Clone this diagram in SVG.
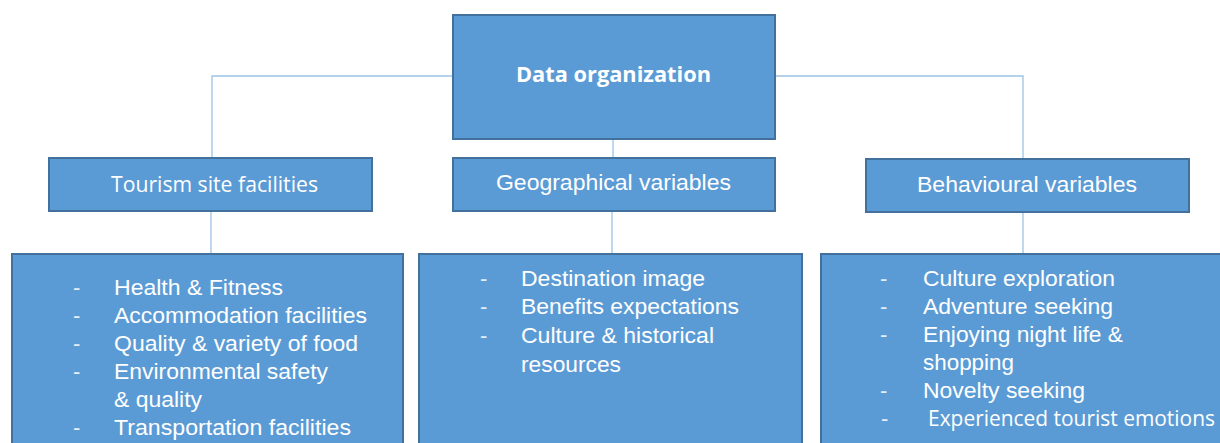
<svg xmlns="http://www.w3.org/2000/svg" width="1220" height="443" viewBox="0 0 1220 443">
<style>
.box{fill:#5B9BD5;stroke:#41719C;stroke-width:2}
.con{stroke:#9DC3E6;stroke-width:1.3;fill:none}
.t{fill:#FFFFFF;font-family:"Liberation Sans",Arial,sans-serif;font-size:22.5px}
.c{fill:#FFFFFF;font-family:"Open Sans","Noto Sans",sans-serif;font-size:21px}
.b{fill:#FFFFFF;font-family:"Open Sans","Noto Sans",sans-serif;font-size:21px;font-weight:bold}
.d{fill:#E6EEF7;font-family:"Liberation Sans",Arial,sans-serif;font-size:22px}
</style>
<rect width="1220" height="443" fill="#FFFFFF"/>
<g id="connectors">
<polyline class="con" points="453,76 212,76 212,158"/>
<polyline class="con" points="775,76 1023,76 1023,159"/>
<line class="con" x1="613" y1="139" x2="613" y2="158"/>
<line class="con" x1="211" y1="211" x2="211" y2="255"/>
<line class="con" x1="612" y1="211" x2="612" y2="255"/>
<line class="con" x1="1023" y1="212" x2="1023" y2="254"/>
</g>
<g id="root">
<rect class="box" x="453" y="15" width="322" height="124"/>
<text class="b" x="516" y="82" textLength="195" lengthAdjust="spacingAndGlyphs">Data organization</text>
</g>
<g id="tourism">
<rect class="box" x="49" y="158" width="323" height="53"/>
<text class="c" x="111" y="192" textLength="207" lengthAdjust="spacingAndGlyphs">Tourism site facilities</text>
</g>
<g id="geographical">
<rect class="box" x="453" y="158" width="322" height="53"/>
<text class="t" x="496" y="189.5" textLength="235" lengthAdjust="spacingAndGlyphs">Geographical variables</text>
</g>
<g id="behavioural">
<rect class="box" x="866" y="159" width="323" height="53"/>
<text class="t" x="917" y="192" textLength="220" lengthAdjust="spacingAndGlyphs">Behavioural variables</text>
</g>
<g id="tourism-list">
<rect class="box" x="12" y="254" width="391" height="210"/>
<text class="d" x="73" y="294.5">-</text>
<text class="t" x="114" y="294.5" textLength="169" lengthAdjust="spacingAndGlyphs">Health &amp; Fitness</text>
<text class="d" x="73" y="322.5">-</text>
<text class="t" x="114" y="322.5" textLength="253" lengthAdjust="spacingAndGlyphs">Accommodation facilities</text>
<text class="d" x="73" y="351">-</text>
<text class="t" x="114" y="351" textLength="244" lengthAdjust="spacingAndGlyphs">Quality &amp; variety of food</text>
<text class="d" x="73" y="379">-</text>
<text class="t" x="114" y="379" textLength="214" lengthAdjust="spacingAndGlyphs">Environmental safety</text>
<text class="t" x="114" y="407" textLength="88" lengthAdjust="spacingAndGlyphs">&amp; quality</text>
<text class="d" x="73" y="435">-</text>
<text class="t" x="114" y="435" textLength="237" lengthAdjust="spacingAndGlyphs">Transportation facilities</text>
</g>
<g id="geographical-list">
<rect class="box" x="419" y="254" width="383" height="210"/>
<text class="d" x="480" y="286">-</text>
<text class="t" x="521" y="286" textLength="184" lengthAdjust="spacingAndGlyphs">Destination image</text>
<text class="d" x="480" y="314">-</text>
<text class="t" x="521" y="314" textLength="218" lengthAdjust="spacingAndGlyphs">Benefits expectations</text>
<text class="d" x="480" y="342.5">-</text>
<text class="t" x="521" y="342.5" textLength="193" lengthAdjust="spacingAndGlyphs">Culture &amp; historical</text>
<text class="t" x="521" y="371.5" textLength="100" lengthAdjust="spacingAndGlyphs">resources</text>
</g>
<g id="behavioural-list">
<rect class="box" x="821" y="254" width="410" height="210"/>
<text class="d" x="880" y="286">-</text>
<text class="t" x="923" y="286" textLength="192" lengthAdjust="spacingAndGlyphs">Culture exploration</text>
<text class="d" x="880" y="314">-</text>
<text class="t" x="923" y="314" textLength="190" lengthAdjust="spacingAndGlyphs">Adventure seeking</text>
<text class="d" x="880" y="342">-</text>
<text class="t" x="923" y="342" textLength="200" lengthAdjust="spacingAndGlyphs">Enjoying night life &amp;</text>
<text class="t" x="923" y="370" textLength="91" lengthAdjust="spacingAndGlyphs">shopping</text>
<text class="d" x="880" y="398">-</text>
<text class="t" x="923" y="398" textLength="162" lengthAdjust="spacingAndGlyphs">Novelty seeking</text>
<text class="d" x="881" y="426">-</text>
<text class="c" x="928" y="426" textLength="287" lengthAdjust="spacingAndGlyphs">Experienced tourist emotions</text>
</g>
</svg>
